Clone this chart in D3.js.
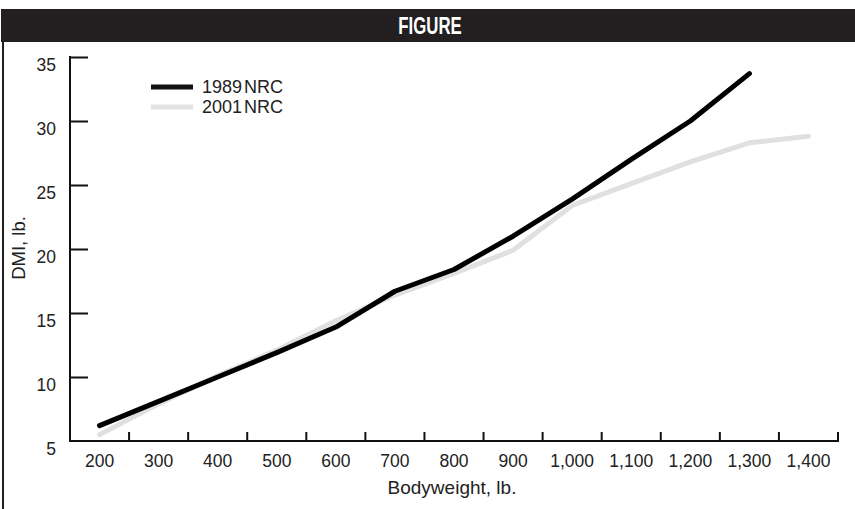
<!DOCTYPE html>
<html>
<head>
<meta charset="utf-8">
<script src="https://cdn.jsdelivr.net/npm/d3@7"></script>
<style>
  html, body { margin: 0; padding: 0; background: #fff; }
  svg { display: block; }
  text { font-family: "Liberation Sans", Arial, Helvetica, sans-serif; fill: #222; }
</style>
</head>
<body>
<svg id="chart" width="855" height="509"></svg>
<script>
const categories = ["200","300","400","500","600","700","800","900","1,000","1,100","1,200","1,300","1,400"];
const nrc1989 = [6.2, 8.1, 10.0, 11.9, 13.9, 16.7, 18.4, 21.0, 23.9, 27.0, 30.0, 33.7, null];
const nrc2001 = [5.5, 7.9, 10.1, 12.1, 14.4, 16.4, 18.1, 19.9, 23.4, 25.1, 26.8, 28.3, 28.8];
const yTicks = [5, 10, 15, 20, 25, 30, 35];
const seriesNames = ["1989 NRC", "2001 NRC"];

const svg = d3.select("#chart");

// header bar
svg.append("rect").attr("x", 1).attr("y", 9).attr("width", 854).attr("height", 33).attr("fill", "#231f20");
svg.append("text").attr("transform", "translate(430,34) scale(0.7,1)").attr("text-anchor", "middle")
  .style("font-family", "'Liberation Sans', Arial, sans-serif")
  .style("font-weight", "bold").style("font-size", "24px").style("fill", "#fff").text("FIGURE");
// left frame line
svg.append("line").attr("x1", 3).attr("x2", 3).attr("y1", 41).attr("y2", 509).attr("stroke", "#231f20").attr("stroke-width", 2);

const x = d3.scaleBand().domain(categories).range([70, 838]).padding(0);
const y = d3.scaleLinear().domain([5, 35]).range([441, 57]);
const cx = c => x(c) + x.bandwidth() / 2;

// y axis
const gy = svg.append("g").attr("transform", "translate(70,0)")
  .call(d3.axisRight(y).tickValues(yTicks.filter(v => v > 5)).tickSize(18).tickFormat(""));
gy.select(".domain").remove();
gy.selectAll(".tick line").attr("stroke", "#111").attr("stroke-width", 2);
svg.append("line").attr("x1", 70).attr("x2", 70).attr("y1", y(35) - 1).attr("y2", y(5) + 1)
  .attr("stroke", "#111").attr("stroke-width", 2);
svg.append("g").selectAll("text").data(yTicks).join("text")
  .attr("x", 56).attr("y", d => y(d) + 8).attr("text-anchor", "end").attr("dy", "0.35em")
  .style("font-size", "17.5px").text(d => d);

// x axis
const gx = svg.append("g").attr("transform", "translate(0,441)")
  .call(d3.axisBottom(x).tickSize(0).tickPadding(14));
gx.select(".domain").remove();
gx.selectAll(".tick text").style("font-size", "17.5px").attr("fill", "#222").style("font-family", "'Liberation Sans', Arial, sans-serif");
svg.append("line").attr("x1", 69).attr("x2", 839).attr("y1", 441).attr("y2", 441).attr("stroke", "#111").attr("stroke-width", 2);
svg.append("g").selectAll("line").data(categories).join("line")
  .attr("x1", d => x(d) + x.bandwidth()).attr("x2", d => x(d) + x.bandwidth())
  .attr("y1", 441).attr("y2", 432).attr("stroke", "#111").attr("stroke-width", 2);

// axis titles
svg.append("text").attr("x", 452).attr("y", 494).attr("text-anchor", "middle").style("font-size", "19px").text("Bodyweight, lb.");
svg.append("text").attr("transform", "translate(25,248) rotate(-90)").attr("text-anchor", "middle").style("font-size", "18.5px").text("DMI, lb.");

// lines
const line = d3.line().defined(d => d.v != null).x(d => cx(d.c)).y(d => y(d.v));
const mk = arr => categories.map((c, i) => ({ c, v: arr[i] }));
svg.append("path").datum(mk(nrc2001)).attr("d", line).attr("fill", "none")
  .attr("stroke", "#e0e0e0").attr("stroke-width", 5).attr("stroke-linecap", "round").attr("stroke-linejoin", "round");
svg.append("path").datum(mk(nrc1989)).attr("d", line).attr("fill", "none")
  .attr("stroke", "#000").attr("stroke-width", 5).attr("stroke-linecap", "round").attr("stroke-linejoin", "round");

// legend
const legColors = ["#111", "#e3e3e3"];
const leg = svg.append("g");
seriesNames.forEach((n, i) => {
  leg.append("line").attr("x1", 151).attr("x2", 193).attr("y1", 87 + i * 20).attr("y2", 87 + i * 20)
    .attr("stroke", legColors[i]).attr("stroke-width", 5);
  leg.append("text").attr("x", 202).attr("y", 87 + i * 20).attr("dy", "0.35em").style("font-size", "18px")
    .style("word-spacing", "-3px").text(n);
});
</script>
</body>
</html>
